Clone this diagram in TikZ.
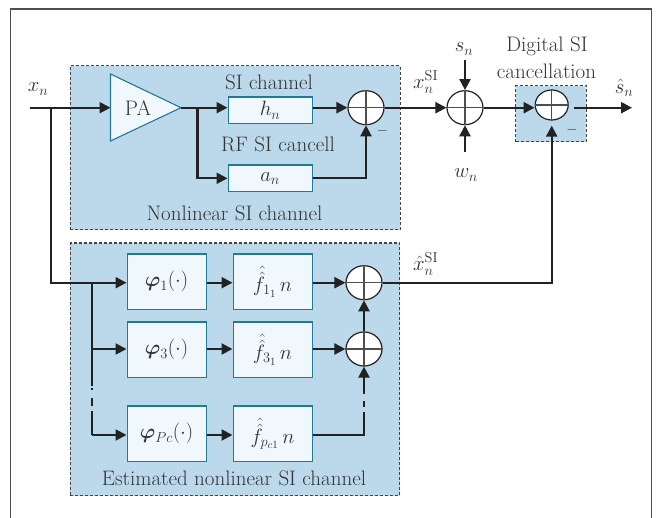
\documentclass[tikz,border=0pt]{standalone}
\usepackage{amsmath}
\usepackage{bm}
\usetikzlibrary{arrows.meta,shapes.geometric}
\definecolor{panelblue}{HTML}{BCD9EC}
\definecolor{boxfill}{HTML}{F0F8FD}
\definecolor{boxedge}{HTML}{1F7A96}
\definecolor{ink}{HTML}{222222}
\definecolor{txt}{HTML}{333333}
\tikzset{
  panel/.style={draw=ink!85,fill=panelblue,line width=1.2pt,dash pattern=on 3pt off 2pt,rectangle,anchor=north west,inner sep=0pt},
  blockbox/.style={draw=boxedge,fill=boxfill,line width=1.1pt,rectangle,anchor=north west,inner sep=0pt,text=txt,font=\fontsize{21}{24}\selectfont},
  ampl/.style={draw=boxedge,fill=boxfill,line width=1.1pt},
  summer/.style={draw=ink,fill=white,line width=1.2pt,ellipse,inner sep=0pt,minimum width=36pt,minimum height=34pt},
  summersmall/.style={summer,minimum width=33pt,minimum height=30pt},
  cross/.style={draw=ink!80,line width=1.1pt},
  wire/.style={draw=ink,line width=2.2pt},
  arrow/.style={wire,-{Triangle[length=11pt,width=11pt]}},
  lab/.style={text=txt,font=\fontsize{21}{24}\selectfont,inner sep=0pt},
  minuslab/.style={text=txt,font=\fontsize{14}{16}\selectfont,inner sep=0pt},
}
\newcommand{\sumcross}[1]{\draw[cross] (#1.north)--(#1.south) (#1.west)--(#1.east);}
\begin{document}
\begin{tikzpicture}[x=1pt,y=-1pt]
\useasboundingbox (0,0) rectangle (656,518);
\fill[white] (0,0) rectangle (656,518);
\draw[ink!80,line width=1.2pt] (10.5,518)--(10.5,9)--(651.5,9)--(651.5,518);
% panels
\node[panel,minimum width=330pt,minimum height=164pt] (p1) at (69.5,65) {};
\node[panel,minimum width=329.5pt,minimum height=252.5pt] (p2) at (69.5,242.5) {};
\node[panel,minimum width=70.5pt,minimum height=56pt] (p3) at (515,85) {};
% PA
\coordinate (paw) at (110.5,107.7);
\coordinate (pae) at (181,107.7);
\draw[ampl] (110.5,74)--(pae)--(110.5,141)--cycle;
\node[lab] (palab) at (138,108) {PA};
% blocks
\node[blockbox,minimum width=84pt,minimum height=26.5pt] (h) at (227.5,96.5) {$h_{n}$};
\node[blockbox,minimum width=84pt,minimum height=26.5pt] (a) at (227.5,164.5) {$a_{n}$};
\node[blockbox,minimum width=79pt,minimum height=55.5pt] (ph1) at (126.5,253.5) {$\bm{\varphi}_{1}(\cdot)$};
\node[blockbox,minimum width=79pt,minimum height=55.5pt] (ph3) at (126.5,321.5) {$\bm{\varphi}_{3}(\cdot)$};
\node[blockbox,minimum width=79pt,minimum height=55.5pt] (phc) at (126.5,405.5) {$\bm{\varphi}_{Pc}(\cdot)$};
\node[blockbox,minimum width=79pt,minimum height=55.5pt] (f1) at (232.5,253.5) {$\hat{\hat{f}}_{1_{1}}\,n$};
\node[blockbox,minimum width=79pt,minimum height=55.5pt] (f3) at (232.5,321.5) {$\hat{\hat{f}}_{3_{1}}\,n$};
\node[blockbox,minimum width=79pt,minimum height=55.5pt] (fc) at (232.5,405.5) {$\hat{\hat{f}}_{p_{c1}}\,n$};
% summers
\node[summer] (s1) at (366,107.7) {};
\node[summer] (s2) at (364,282.7) {};
\node[summer] (s3) at (364,349) {};
\node[summer] (s4) at (465,107.7) {};
\node[summersmall] (s5) at (551.7,105) {};
\foreach \n in {s1,s2,s3,s4,s5}{\sumcross{\n}}
% coordinates
\coordinate (in) at (30,107.7);
\coordinate (j1) at (51,107.7);
\coordinate (j2) at (51,282.7);
\coordinate (b) at (91.7,282.7);
\coordinate (b3) at (91.7,349);
\coordinate (bc) at (91.7,435);
\coordinate (k) at (197.5,107.7);
\coordinate (snin) at (465,60);
\coordinate (wnin) at (465,152);
\coordinate (out) at (632,107.7);
% top wires
\draw[arrow] (in)--(paw);
\draw[wire] (j1)--(j2)--(b);
\draw[arrow] (pae)--(h.west |- pae);
\draw[arrow] (k)|-(a.west);
\draw[arrow] (h.east |- s1.west)--(s1.west);
\draw[arrow] (a.east)-|(s1.south);
\draw[arrow] (s1.east)--(s4.west);
\draw[arrow] (snin)--(s4.north);
\draw[arrow] (wnin)--(s4.south);
\draw[arrow] (s4.east)--(s5.west |- s4.east);
\draw[arrow,shorten <=5pt] (s5.east |- out)--(out);
\draw[arrow,shorten >=5pt] (s2.east)-|(s5.south);
% lower wires
\draw[arrow] (b)--(ph1.west |- b);
\draw[arrow] (ph1.east |- b)--(f1.west |- b);
\draw[arrow] (f1.east |- s2.west)--(s2.west);
\draw[arrow] (ph3.east |- b3)--(f3.west |- b3);
\draw[arrow] (f3.east |- s3.west)--(s3.west);
\draw[arrow] (phc.east |- bc)--(fc.west |- bc);
\draw[arrow] (s3.north)--(s2.south);
\draw[arrow] (b3)--(ph3.west |- b3);
\draw[wire] (b)--(91.7,386);
\draw[wire] (91.7,388)--(91.7,390);
\draw[wire] (91.7,398)--(91.7,406);
\draw[wire] (91.7,411)--(bc);
\draw[arrow] (bc)--(phc.west |- bc);
\draw[wire] (fc.east |- bc)-|(364,412);
\draw[wire] (364,407)--(364,401);
\draw[arrow] (364,394)--(s3.south);
% labels
\node[lab] (lxn) at (38,89) {$x_{n}$};
\node[lab] (l1) at (269,82) {SI channel};
\node[lab] (l2) at (278,144.5) {RF SI cancell};
\node[lab] (l3) at (234.5,213) {Nonlinear SI channel};
\node[lab] (l4) at (234,478.5) {Estimated nonlinear SI channel};
\node[lab] (l5) at (547,46.5) {Digital SI};
\node[lab] (l6) at (546.5,71.5) {cancellation};
\node[minuslab] (lm1) at (382.5,130.5) {$-$};
\node[minuslab] (lm2) at (572,130) {$-$};
\node[lab,anchor=west] (lxsi) at (413,82) {$x_{n}^{\mathrm{SI}}$};
\node[lab,anchor=west] (lxh) at (413,264) {$\hat{x}_{n}^{\mathrm{SI}}$};
\node[lab] (lsn) at (464,49) {$s_{n}$};
\node[lab] (lwn) at (466,175) {$w_{n}$};
\node[lab] (lsh) at (624,88) {$\hat{s}_{n}$};
\end{tikzpicture}
\end{document}
